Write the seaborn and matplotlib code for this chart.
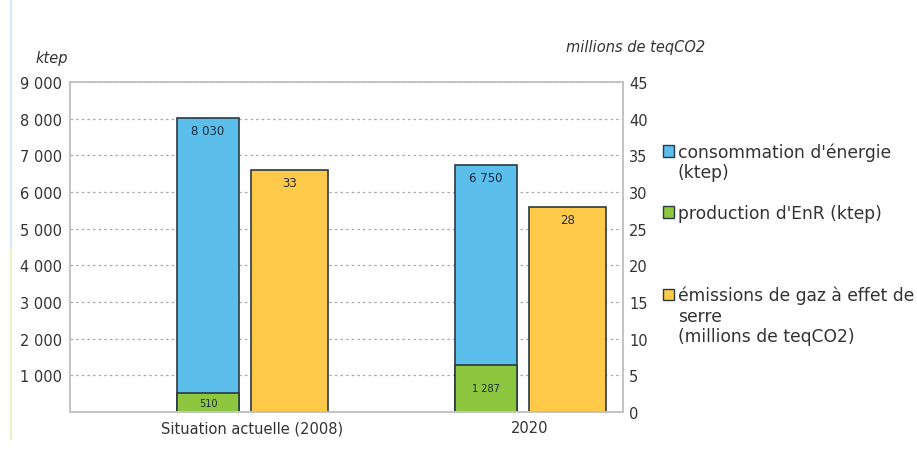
import numpy as np
import pandas as pd
import matplotlib
matplotlib.use("Agg")
import matplotlib.pyplot as plt
import seaborn as sns
from matplotlib.patches import Patch
from matplotlib.lines import Line2D

# ---- data ----
categories = ["Situation actuelle (2008)", "2020"]
consommation = [8030, 6750]      # ktep (total bar height)
production = [510, 1287]         # ktep
emissions = [33, 28]             # millions de teqCO2
left_ticks = [0, 1000, 2000, 3000, 4000, 5000, 6000, 7000, 8000, 9000]
left_tick_labels = ["", "1 000", "2 000", "3 000", "4 000", "5 000",
                    "6 000", "7 000", "8 000", "9 000"]
right_ticks = [0, 5, 10, 15, 20, 25, 30, 35, 40, 45]
legend_conso = ["consommation d'énergie", "(ktep)"]
legend_prod = ["production d'EnR (ktep)"]
legend_ges = ["émissions de gaz à effet de", "serre", "(millions de teqCO2)"]

BLUE = "#5BBEEB"
GREEN = "#8DC63F"
YELLOW = "#FFC94A"
EDGE = "#2B3A42"
TXT = "#333333"
LBL = "#1E2A3C"

sns.set_style("white")
plt.rcParams["font.family"] = ["DejaVu Sans"]

fig = plt.figure(figsize=(9.17, 4.52), dpi=100)
ax1 = fig.add_axes([70 / 917, 39 / 452, 553 / 917, 330 / 452])
ax2 = ax1.twinx()

idx = np.arange(len(categories))
df = pd.DataFrame({
    "pos_l": idx - 0.158,
    "pos_r": idx + 0.135,
    "conso": consommation,
    "prod": production,
    "ges": emissions,
})

fmt = lambda v: f"{v:,}".replace(",", " ")

sns.barplot(data=df, x="pos_l", y="conso", native_scale=True, orient="x",
            width=0.225, color=BLUE, saturation=1, edgecolor=EDGE,
            linewidth=1.2, errorbar=None, ax=ax1)
sns.barplot(data=df, x="pos_l", y="prod", native_scale=True, orient="x",
            width=0.225, color=GREEN, saturation=1, edgecolor=EDGE,
            linewidth=1.2, errorbar=None, ax=ax1)
sns.barplot(data=df, x="pos_r", y="ges", native_scale=True, orient="x",
            width=0.275, color=YELLOW, saturation=1, edgecolor=EDGE,
            linewidth=1.2, errorbar=None, ax=ax2)

ax1.bar_label(ax1.containers[0], labels=[fmt(v) for v in consommation],
              padding=-14, fontsize=8.5, color=LBL)
ax1.bar_label(ax1.containers[1], labels=[fmt(v) for v in production],
              label_type="center", fontsize=7, color=LBL)
ax2.bar_label(ax2.containers[0], labels=[fmt(v) for v in emissions],
              padding=-14, fontsize=8.5, color=LBL)

ax1.set_xlim(-0.655, 1.335)
ax2.set_xlim(-0.655, 1.335)
ax1.set_ylim(0, 9000)
ax2.set_ylim(0, 45)
ax1.set_yticks(left_ticks, labels=left_tick_labels)
ax2.set_yticks(right_ticks, labels=[str(t) for t in right_ticks])
ax1.set_xticks(idx, labels=categories)
for a in (ax1, ax2):
    a.set_xlabel("")
    a.set_ylabel("")
ax1.tick_params(axis="y", length=0, labelsize=10.5, colors=TXT, pad=5.8)
ax1.tick_params(axis="x", length=0, labelsize=10.5, colors=TXT, pad=6)
ax2.tick_params(axis="y", length=0, labelsize=10.5, colors=TXT, pad=4.3)

ax1.set_axisbelow(True)
ax1.grid(axis="y", linestyle=(0, (2, 2.5)), color="#a8a8a8", linewidth=0.9)
ax1.grid(axis="x", visible=False)
for a in (ax1, ax2):
    for s in a.spines.values():
        s.set_color("#c4c4c4")
        s.set_linewidth(1.4)
        s.set_visible(True)

fig.text(68 / 917, 1 - 58 / 452, "ktep", ha="right", va="center",
         style="italic", fontsize=10.5, color=TXT)
fig.text(636 / 917, 1 - 48 / 452, "millions de teqCO2", ha="center",
         va="center", style="italic", fontsize=10.5, color=TXT)

# legend (one row per text line, blank rows for spacing)
inv = Patch(facecolor="none", edgecolor="none")
handles = [Patch(facecolor=BLUE, edgecolor=EDGE, linewidth=1.0), inv, inv,
           Patch(facecolor=GREEN, edgecolor=EDGE, linewidth=1.0), inv, inv, inv,
           Patch(facecolor=YELLOW, edgecolor=EDGE, linewidth=1.0), inv, inv]
labels = [legend_conso[0], legend_conso[1], " ",
          legend_prod[0], " ", " ", " ",
          legend_ges[0], legend_ges[1], legend_ges[2]]
fig.legend(handles, labels, loc="upper left",
           bbox_to_anchor=(663 / 917, 1 - 143.5 / 452),
           frameon=False, fontsize=12.3, handlelength=0.65, handleheight=0.65,
           handletextpad=0.22, labelspacing=0.14, borderpad=0,
           borderaxespad=0, labelcolor=TXT)

# faint decorative left border
fig.add_artist(Line2D([11 / 917, 11 / 917], [1.0, 1 - 250 / 452],
                      color="#d3eaf6", lw=1.5, transform=fig.transFigure))
fig.add_artist(Line2D([11 / 917, 11 / 917], [1 - 250 / 452, 1 - 440 / 452],
                      color="#eef1c6", lw=1.5, transform=fig.transFigure))

fig.savefig("out.png", dpi=100)
